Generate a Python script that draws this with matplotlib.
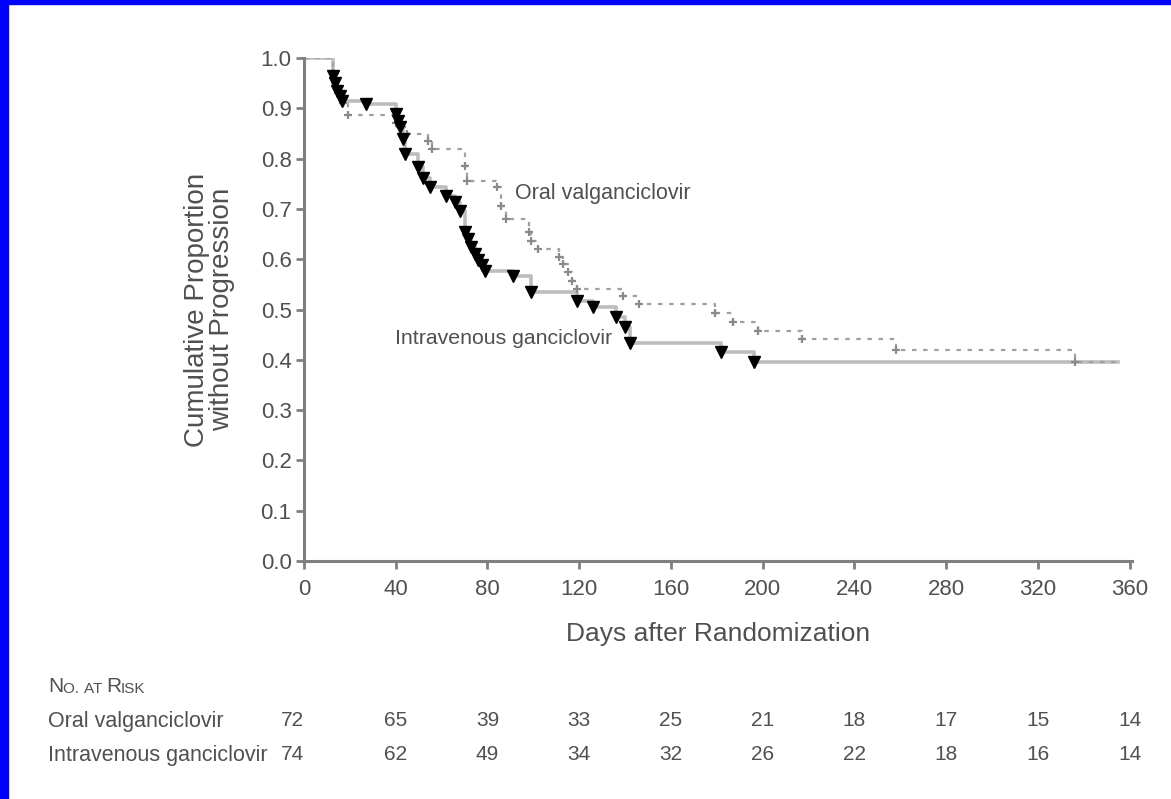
import numpy as np
import matplotlib.pyplot as plt
from matplotlib.patches import Rectangle
from matplotlib.transforms import blended_transform_factory, offset_copy

plt.rcParams['font.family'] = ['Liberation Sans', 'DejaVu Sans']

# ---------------------------------------------------------------- data
oral_days = [0, 12.5, 13.5, 15, 17, 19, 40, 42, 45, 54, 56, 70, 71, 84, 86, 88,
             98, 99, 102, 111, 113, 115, 117, 119, 139, 146, 179, 187, 198, 217, 258, 336]
oral_surv = [1.0, 0.97, 0.95, 0.93, 0.91, 0.886, 0.87, 0.862, 0.849, 0.835, 0.819, 0.785,
             0.755, 0.743, 0.705, 0.679, 0.655, 0.636, 0.62, 0.604, 0.59, 0.574, 0.556,
             0.54, 0.526, 0.51, 0.494, 0.476, 0.458, 0.442, 0.42, 0.396]

iv_days = [0, 12.5, 13.5, 14.5, 15.5, 16.5, 27, 40, 41, 42, 43, 44, 49.5, 52, 55,
           62, 66, 68, 70, 71.5, 73, 74.5, 76, 77.5, 78.7, 91, 99, 119, 126, 136, 140,
           142, 182, 196]
iv_surv = [1.0, 0.965, 0.95, 0.935, 0.925, 0.914, 0.908, 0.888, 0.875, 0.862, 0.838,
           0.81, 0.783, 0.762, 0.743, 0.725, 0.713, 0.695, 0.655, 0.64, 0.625, 0.61,
           0.598, 0.588, 0.576, 0.566, 0.534, 0.516, 0.504, 0.486, 0.466, 0.434, 0.415,
           0.396]
last_day = 355

risk_days = [0, 40, 80, 120, 160, 200, 240, 280, 320, 360]
risk_oral = [72, 65, 39, 33, 25, 21, 18, 17, 15, 14]
risk_iv = [74, 62, 49, 34, 32, 26, 22, 18, 16, 14]

x_ticks = np.arange(0, 361, 40)
y_ticks = np.arange(0, 1.01, 0.1)

txt_col = '#505050'

# ---------------------------------------------------------------- figure
fig = plt.figure(figsize=(11.71, 7.99), dpi=100)
fig.patches.append(Rectangle((0, 0), 8 / 1171, 1, transform=fig.transFigure,
                             color='#0000ff', zorder=0))
fig.patches.append(Rectangle((0, 1 - 4 / 799), 1, 4 / 799, transform=fig.transFigure,
                             color='#0000ff', zorder=0))

ax = fig.add_axes([304 / 1171, 238 / 799, 828 / 1171, 503 / 799])

# oral valganciclovir: dotted steps
ox = list(oral_days) + [last_day]
oy = list(oral_surv) + [oral_surv[-1]]
ax.step(ox, oy, where='post', color='#a0a0a0', lw=1.6, ls=(0, (2, 3)), zorder=2)
ax.plot(oral_days[1:], oral_surv[1:], ls='none', marker='+', ms=6, mew=1.6,
        color='#8a8a8a', zorder=3)

# intravenous ganciclovir: solid steps
ix = list(iv_days) + [last_day]
iy = list(iv_surv) + [iv_surv[-1]]
ax.step(ix, iy, where='post', color='#bdbdbd', lw=2.6, zorder=1)
ax.plot(iv_days[1:], iv_surv[1:], ls='none', marker='v', ms=8, color='black', zorder=4)

ax.text(92, 0.73, 'Oral valganciclovir', fontsize=15.5, color=txt_col, va='center')
ax.text(39.5, 0.442, 'Intravenous ganciclovir', fontsize=15.3, color=txt_col, va='center')

ax.set_xlim(0, 361)
ax.set_ylim(0, 1.0)
ax.set_xticks(x_ticks)
ax.set_yticks(y_ticks)
ax.set_yticklabels([f'{v:.1f}' for v in y_ticks])
for s in ['top', 'right']:
    ax.spines[s].set_visible(False)
for s in ['left', 'bottom']:
    ax.spines[s].set_color('#808080')
    ax.spines[s].set_linewidth(2.2)
    ax.spines[s].set_clip_on(False)
ax.tick_params(colors='#808080', width=2, length=6, labelsize=16, labelcolor=txt_col,
               pad=3)
ax.tick_params(axis='x', pad=7)
ax.set_xlabel('Days after Randomization', fontsize=19, color=txt_col, labelpad=16)
ax.set_ylabel('Cumulative Proportion\nwithout Progression', fontsize=20,
              color=txt_col, linespacing=0.95, va='center')
ax.yaxis.set_label_coords(-0.114, 0.5)

# ---------------------------------------------------------------- risk table
tr = blended_transform_factory(ax.transData, fig.transFigure)
y_head = 1 - 692 / 799
y_oral = 1 - 721 / 799
y_iv = 1 - 755 / 799

# small caps heading
t = fig.text(48 / 1171, y_head, 'N', fontsize=15, color=txt_col, va='baseline')
for piece, size in [('O. ', 11), ('AT ', 11), ('R', 15), ('ISK', 11)]:
    t = ax.annotate(piece, xy=(1, 0), xycoords=t, fontsize=size, color=txt_col,
                    va='bottom', annotation_clip=False)

fig.text(48 / 1171, y_oral, 'Oral valganciclovir', fontsize=15.5, color=txt_col,
         va='center')
fig.text(48 / 1171, y_iv, 'Intravenous ganciclovir', fontsize=15.5, color=txt_col,
         va='center')
for i, d in enumerate(risk_days):
    tt = tr if i > 0 else offset_copy(tr, fig=fig, x=-12, y=0, units='dots')
    ax.text(d, y_oral, str(risk_oral[i]), transform=tt, fontsize=15, color=txt_col,
            ha='center', va='center')
    ax.text(d, y_iv, str(risk_iv[i]), transform=tt, fontsize=15, color=txt_col,
            ha='center', va='center')

fig.savefig('out.png', dpi=100)
